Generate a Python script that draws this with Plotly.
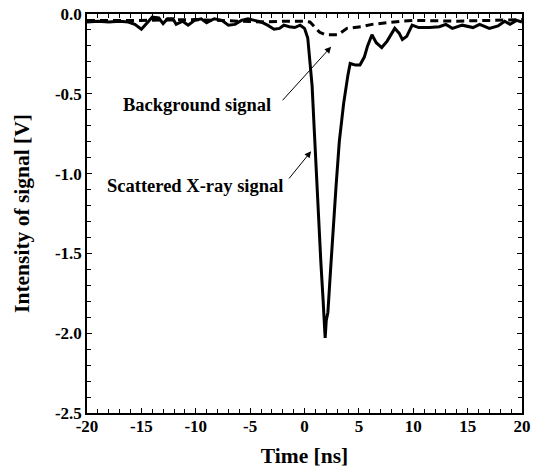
import plotly.graph_objects as go

# Scattered X-ray signal (solid)
sig_t = [-20, -19, -18, -17, -16.2, -15.6, -15.0, -14.4, -14.0, -13.4, -13.0, -12.6, -12.1, -11.8,
         -11.2, -10.7, -10.1, -9.5, -9.0, -8.3, -7.6, -7.0, -6.4, -5.8, -5.2, -4.6, -4.0, -3.4,
         -2.8, -2.3, -1.9, -1.4, -0.9, -0.4, 0.0, 0.3, 0.5, 0.7, 0.9, 1.1, 1.3, 1.5, 1.7, 1.8,
         1.9, 2.0, 2.15, 2.4, 2.6, 2.9, 3.2, 3.6, 4.0, 4.2, 4.7, 5.1, 5.5, 5.8, 6.2, 6.6, 7.1,
         7.6, 8.3, 8.7, 9.0, 9.4, 9.9, 10.5, 11.5, 12.4, 13.0, 13.6, 14.5, 15.5, 16.1, 17.0,
         17.8, 18.4, 18.9, 19.5, 20.0]
sig_v = [-0.05, -0.045, -0.05, -0.045, -0.05, -0.065, -0.095, -0.05, -0.02, -0.025, -0.06, -0.03,
         -0.03, -0.065, -0.045, -0.07, -0.04, -0.03, -0.055, -0.03, -0.04, -0.07, -0.065, -0.04,
         -0.03, -0.04, -0.05, -0.07, -0.095, -0.09, -0.07, -0.08, -0.085, -0.07, -0.09,
         -0.15, -0.28, -0.45, -0.73, -1.02, -1.32, -1.55, -1.78, -1.9, -2.03, -1.92, -1.87, -1.6,
         -1.36, -1.08, -0.8, -0.56, -0.38, -0.31, -0.32, -0.32, -0.27, -0.2, -0.13, -0.18, -0.21,
         -0.17, -0.09, -0.12, -0.16, -0.14, -0.07, -0.085, -0.085, -0.08, -0.065, -0.09, -0.07,
         -0.085, -0.065, -0.09, -0.075, -0.045, -0.065, -0.04, -0.05]

# Background signal (dashed)
bg_t = [-20, -15, -10, -5, -4, -2, 0, 0.5, 0.9, 1.4, 1.9, 3.1, 3.9, 5.2, 6.2, 7.5, 9.0, 10.2,
        14, 17, 20]
bg_v = [-0.04, -0.04, -0.035, -0.045, -0.05, -0.045, -0.045, -0.05, -0.08, -0.115, -0.13, -0.13,
        -0.09, -0.08, -0.065, -0.055, -0.045, -0.04, -0.045, -0.04, -0.035]

x_ticks = [-20, -15, -10, -5, 0, 5, 10, 15, 20]
x_tick_labels = ["-20", "-15", "-10", "-5", "0", "5", "10", "15", "20"]
y_ticks = [-2.5, -2.0, -1.5, -1.0, -0.5, 0.0]
y_tick_labels = ["-2.5", "-2.0", "-1.5", "-1.0", "-0.5", "0.0"]

FONT = "Liberation Serif"

fig = go.Figure()
fig.add_trace(go.Scatter(x=bg_t, y=bg_v, mode="lines",
                         line=dict(color="black", width=3, dash="8px,5px"),
                         showlegend=False))
fig.add_trace(go.Scatter(x=sig_t, y=sig_v, mode="lines",
                         line=dict(color="black", width=3),
                         showlegend=False))

ann_font = dict(family=FONT, size=18.5, color="black", weight="bold")
fig.add_annotation(x=-9.9, y=-0.57, xref="x", yref="y", text="Background signal",
                   showarrow=False, font=ann_font)
fig.add_annotation(x=-10.1, y=-1.08, xref="x", yref="y", text="Scattered X-ray signal",
                   showarrow=False, font=ann_font)
fig.add_annotation(x=2.45, y=-0.205, ax=-2.14, ay=-0.55, xref="x", yref="y",
                   axref="x", ayref="y", text="", showarrow=True, arrowhead=2,
                   arrowsize=1.3, arrowwidth=1, arrowcolor="black")
fig.add_annotation(x=0.61, y=-0.86, ax=-1.53, ay=-1.04, xref="x", yref="y",
                   axref="x", ayref="y", text="", showarrow=True, arrowhead=2,
                   arrowsize=1.3, arrowwidth=1, arrowcolor="black")

axis_common = dict(showline=True, linecolor="black", linewidth=1.5, mirror="ticks",
                   ticks="inside", ticklen=5, tickwidth=1, tickcolor="black",
                   showgrid=False, zeroline=False, automargin=False,
                   ticklabeloverflow="allow",
                   tickfont=dict(family=FONT, size=17, color="black", weight="bold"))

title_font = dict(family=FONT, size=21.5, color="black", weight="bold")

fig.update_xaxes(range=[-20, 20], tickvals=x_ticks, ticktext=x_tick_labels,
                 minor=dict(dtick=1, ticks="inside", ticklen=4, tickcolor="black"),
                 ticklabelstandoff=-3,
                 title=dict(text="Time [ns]", font=title_font, standoff=13),
                 **axis_common)
fig.update_yaxes(range=[-2.5, 0.0], tickvals=y_ticks, ticktext=y_tick_labels,
                 minor=dict(dtick=0.1, ticks="inside", ticklen=4, tickcolor="black"),
                 title=dict(text="Intensity of signal [V]", font=title_font, standoff=19),
                 **axis_common)

fig.update_layout(width=534, height=474, margin=dict(l=87, r=12, t=14, b=61),
                  plot_bgcolor="white", paper_bgcolor="white")

# remove the default page margin so the figure sits at the window's corner
fig.write_html("out.html", config={"displayModeBar": False},
               post_script="document.body.style.margin='0';")
